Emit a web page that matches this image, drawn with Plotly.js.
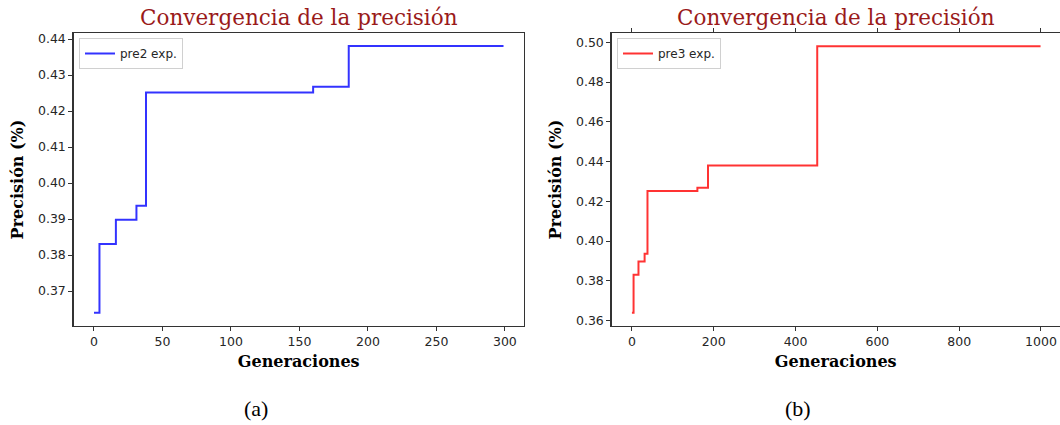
<!DOCTYPE html>
<html>
<head>
<meta charset="utf-8">
<script src="https://cdn.plot.ly/plotly-3.0.1.min.js"></script>
<style>html,body{margin:0;padding:0;background:#fff;}#chart{width:1060px;height:425px;}</style>
</head>
<body>
<div id="chart"></div>
<script>
// Experiment (a): 300 generations, step change points
var genA = [0, 4, 16, 31, 38, 160, 186, 299];
var preA = [0.3640, 0.3831, 0.3898, 0.3937, 0.4252, 0.4268, 0.4381, 0.4381];
// Experiment (b): 1000 generations, step change points
var genB = [0, 4, 16, 31, 38, 160, 186, 453, 999];
var preB = [0.3640, 0.3831, 0.3898, 0.3937, 0.4252, 0.4268, 0.4381, 0.4980, 0.4980];

var ticksA_x = [0, 50, 100, 150, 200, 250, 300];
var ticksA_y = [0.37, 0.38, 0.39, 0.40, 0.41, 0.42, 0.43, 0.44];
var ticksB_x = [0, 200, 400, 600, 800, 1000];
var ticksB_y = [0.36, 0.38, 0.40, 0.42, 0.44, 0.46, 0.48, 0.50];

var nameA = 'pre2 exp.';
var nameB = 'pre3 exp.';
var titleText = 'Convergencia de la precisión';
var xTitle = 'Generaciones';
var yTitle = 'Precisión (%)';

var W = 1060, H = 425;
function px(x){ return x / W; }
function py(y){ return 1 - y / H; }

var tickFont = {family: 'DejaVu Sans', size: 12.5, color: '#262626'};
var axTitleFont = {family: 'DejaVu Serif', size: 16, color: '#000', weight: 'bold'};
var spine = '#333333';

function xax(domain, range, ticks, mirror){
  return {domain: domain, range: range, tickvals: ticks, ticktext: ticks.map(String),
    showgrid: false, zeroline: false, showline: true, linecolor: spine, linewidth: 1.2,
    mirror: mirror, ticks: 'outside', ticklen: 4, tickcolor: spine, tickwidth: 1,
    tickfont: tickFont, anchor: null,
    title: {text: '<b>' + xTitle + '</b>', font: axTitleFont, standoff: 7}};
}
function yax(domain, range, ticks, mirror){
  return {domain: domain, range: range, tickvals: ticks, ticktext: ticks.map(function(v){return v.toFixed(2);}),
    showgrid: false, zeroline: false, showline: true, linecolor: spine, linewidth: 1.2,
    mirror: mirror, ticks: 'outside', ticklen: 4, tickcolor: spine, tickwidth: 1,
    tickfont: tickFont,
    title: {text: '<b>' + yTitle + '</b>', font: axTitleFont, standoff: 10}};
}

var yDom = [py(326), py(33)];

var traces = [
  {x: genA, y: preA, type: 'scatter', mode: 'lines', name: nameA, line: {shape: 'hv', color: 'rgba(0,0,255,0.8)', width: 2},
   xaxis: 'x', yaxis: 'y', legend: 'legend'},
  {x: genB, y: preB, type: 'scatter', mode: 'lines', name: nameB, line: {shape: 'hv', color: 'rgba(255,0,0,0.8)', width: 2},
   xaxis: 'x2', yaxis: 'y2', legend: 'legend2'}
];

var xa1 = xax([px(73.5), px(524)], [-14.95, 313.95], ticksA_x, true); xa1.anchor = 'y';
var ya1 = yax(yDom, [0.3603, 0.4417], ticksA_y, true); ya1.anchor = 'x';
var xa2 = xax([px(611.5), 1], [-49.95, 1046.5], ticksB_x, 'all'); xa2.anchor = 'y2';
var ya2 = yax(yDom, [0.3573, 0.5047], ticksB_y, false); ya2.anchor = 'x2';

var legendBase = {bgcolor: '#fff', bordercolor: '#d0d0d0', borderwidth: 1,
  font: {family: 'DejaVu Sans', size: 12, color: '#262626'}, xanchor: 'left', yanchor: 'top',
  itemwidth: 30, tracegroupgap: 0};

var layout = {
  width: W, height: H, autosize: false,
  margin: {l: 0, r: 0, t: 0, b: 0, pad: 0},
  paper_bgcolor: '#fff', plot_bgcolor: '#fff',
  showlegend: true,
  xaxis: xa1, yaxis: ya1, xaxis2: xa2, yaxis2: ya2,
  legend: Object.assign({}, legendBase, {x: px(79), y: py(38)}),
  legend2: Object.assign({}, legendBase, {x: px(617), y: py(38)}),
  annotations: [
    {text: titleText, xref: 'paper', yref: 'paper', x: px(298.5), y: py(17), xanchor: 'center', yanchor: 'middle',
     showarrow: false, font: {family: 'DejaVu Serif', size: 21.5, color: '#9a1a1a'}},
    {text: titleText, xref: 'paper', yref: 'paper', x: px(835.5), y: py(17), xanchor: 'center', yanchor: 'middle',
     showarrow: false, font: {family: 'DejaVu Serif', size: 21.5, color: '#9a1a1a'}},
    {text: '(a)', xref: 'paper', yref: 'paper', x: px(256), y: py(408), xanchor: 'center', yanchor: 'middle',
     showarrow: false, font: {family: 'Liberation Serif', size: 22, color: '#000'}},
    {text: '(b)', xref: 'paper', yref: 'paper', x: px(798), y: py(408), xanchor: 'center', yanchor: 'middle',
     showarrow: false, font: {family: 'Liberation Serif', size: 22, color: '#000'}}
  ]
};

Plotly.newPlot('chart', traces, layout, {displayModeBar: false, staticPlot: true});
</script>
</body>
</html>
